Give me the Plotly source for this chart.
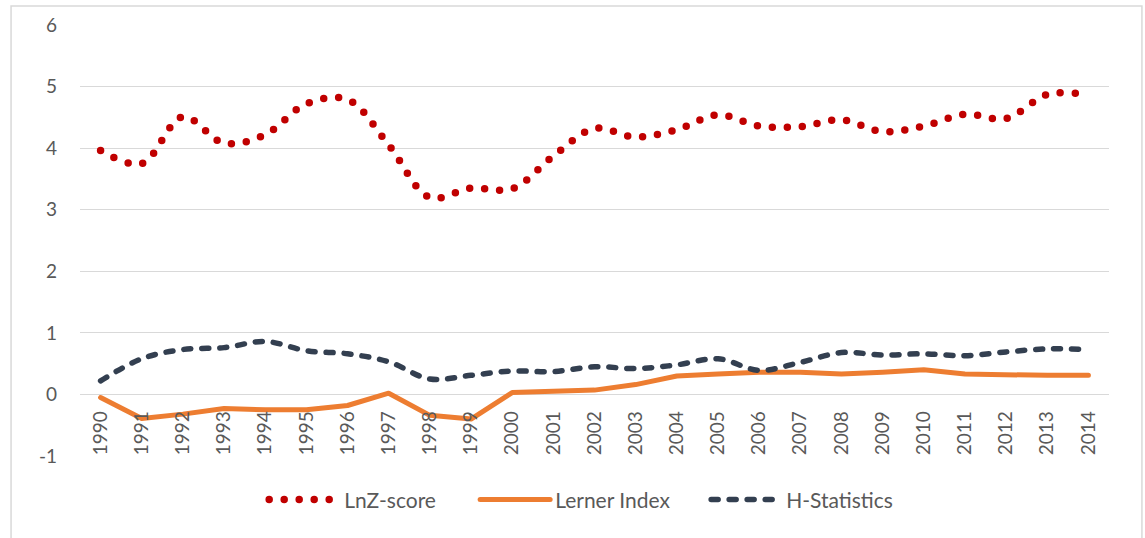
import plotly.graph_objects as go

years = ["1990", "1991", "1992", "1993", "1994", "1995", "1996", "1997", "1998", "1999",
         "2000", "2001", "2002", "2003", "2004", "2005", "2006", "2007", "2008", "2009",
         "2010", "2011", "2012", "2013", "2014"]
lnz_score = [3.96, 3.75, 4.51, 4.08, 4.22, 4.72, 4.79, 4.05, 3.20, 3.35, 3.34, 3.87, 4.32,
             4.18, 4.30, 4.54, 4.36, 4.35, 4.46, 4.27, 4.36, 4.55, 4.48, 4.87, 4.87]
lerner_index = [-0.05, -0.39, -0.32, -0.23, -0.25, -0.25, -0.18, 0.02, -0.34, -0.40, 0.03, 0.06,
                0.07, 0.16, 0.30, 0.33, 0.36, 0.36, 0.33, 0.36, 0.40, 0.33, 0.31, 0.31, 0.31]
h_statistics = [0.22, 0.58, 0.73, 0.76, 0.86, 0.71, 0.66, 0.53, 0.25, 0.31, 0.38, 0.37, 0.45,
                0.42, 0.48, 0.58, 0.39, 0.52, 0.68, 0.64, 0.66, 0.63, 0.69, 0.74, 0.73]
y_ticks = [-1, 0, 1, 2, 3, 4, 5, 6]
y_tick_labels = ["-1", "0", "1", "2", "3", "4", "5", "6"]

FONT = "Lato"
TXT = "#595959"

fig = go.Figure()
fig.add_trace(go.Scatter(x=years, y=lnz_score, name="LnZ-score", mode="lines", legend="legend",
                         line=dict(color="#c00000", width=7.5, dash="0px,15px",
                                   shape="spline", smoothing=1)))
fig.add_trace(go.Scatter(x=years, y=lerner_index, name="Lerner Index", mode="lines", legend="legend2",
                         line=dict(color="#ed7d31", width=5)))
fig.add_trace(go.Scatter(x=years, y=h_statistics, name="H-Statistics", mode="lines", legend="legend3",
                         line=dict(color="#333f50", width=5.5, dash="7px,11px",
                                   shape="spline", smoothing=1)))

def leg(xpos):
    return dict(orientation="h", x=xpos, xanchor="left", y=-0.102, yanchor="middle",
                font=dict(family=FONT, size=21, color=TXT), itemwidth=70,
                bgcolor="rgba(0,0,0,0)")

fig.update_layout(
    width=1145, height=538,
    margin=dict(l=80, r=36, t=25, b=82),
    paper_bgcolor="white", plot_bgcolor="white",
    font=dict(family=FONT, color=TXT, size=19),
    showlegend=True,
    legend=leg(0.179), legend2=leg(0.384), legend3=leg(0.6085),
    xaxis=dict(type="category", range=[-0.5, 24.5], showgrid=False, showline=False,
               zeroline=False, ticks="", tickangle=-90, anchor="free", position=1/7,
               tickfont=dict(family=FONT, size=19, color=TXT), ticklabelstandoff=12),
    yaxis=dict(range=[-1, 6], tickvals=y_ticks, ticktext=y_tick_labels, showgrid=True,
               gridcolor="#d9d9d9", gridwidth=1.3, zeroline=False, showline=False, ticks="",
               tickfont=dict(family=FONT, size=19, color=TXT), ticklabelstandoff=22),
    shapes=[dict(type="rect", xref="paper", yref="paper", x0=-0.067, x1=1.032,
                 y0=-0.4, y1=1.044, line=dict(color="#d9d9d9", width=1.5),
                 fillcolor="rgba(0,0,0,0)", layer="below")],
)

post_script = """
document.body.style.margin = '0';
var gd = document.getElementById('{plot_id}');
function fixCaps(){
  gd.querySelectorAll('path.js-line').forEach(function(p){
    p.style.strokeLinecap = 'round';
    p.style.strokeLinejoin = 'round';
  });
}
fixCaps();
gd.on('plotly_afterplot', fixCaps);
"""

fig.write_html("out.html", post_script=post_script, config={"displayModeBar": False})
